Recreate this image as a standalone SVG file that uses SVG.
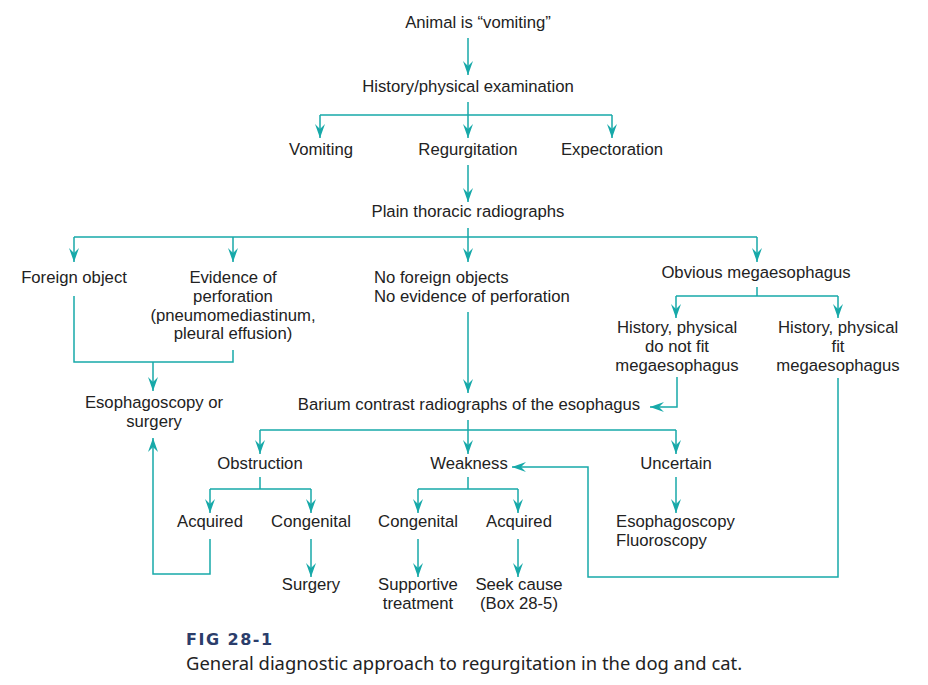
<svg xmlns="http://www.w3.org/2000/svg" width="928" height="685" viewBox="0 0 928 685">
<defs>
<marker id="ah" viewBox="0 0 14 10" refX="14" refY="5" markerWidth="14" markerHeight="10" markerUnits="userSpaceOnUse" orient="auto">
<path d="M0,0 L14,5 L0,10 L5,5 z" fill="#17a9a9"/>
</marker>
<style>
text{font-family:"Liberation Sans",Arial,sans-serif;font-size:16.7px;fill:#222;}
.c{text-anchor:middle;}
.ln{fill:none;stroke:#17a9a9;stroke-width:1.5;}
.a{marker-end:url(#ah);}
.fig{font-family:"DejaVu Sans",sans-serif;font-weight:bold;font-size:16px;fill:#2b3d6b;letter-spacing:1.5px;}
.cap{font-family:"Noto Sans","Liberation Sans",sans-serif;font-size:18.4px;fill:#222;}
</style>
</defs>
<rect width="928" height="685" fill="#fff"/>
<g id="connectors">
<path class="ln a" d="M468,38 V75"/>
<path class="ln" d="M468,102 V115 M320,115 H612"/>
<path class="ln a" d="M320,115 V138"/>
<path class="ln a" d="M468,115 V138"/>
<path class="ln a" d="M612,115 V138"/>
<path class="ln a" d="M468,165 V202"/>
<path class="ln" d="M468,228 V237 M74,237 H757"/>
<path class="ln a" d="M74,237 V262"/>
<path class="ln a" d="M233,237 V262"/>
<path class="ln a" d="M468,237 V262"/>
<path class="ln a" d="M757,237 V262"/>
<path class="ln" d="M74,296 V362 H233 V350"/>
<path class="ln a" d="M153,362 V391"/>
<path class="ln a" d="M468,312 V393"/>
<path class="ln" d="M757,287 V296 M676,296 H838"/>
<path class="ln a" d="M676,296 V318"/>
<path class="ln a" d="M838,296 V318"/>
<path class="ln a" d="M677,377 V407 H650"/>
<path class="ln a" d="M838,378 V577 H588 V467 H512"/>
<path class="ln" d="M468,420 V430 M260,430 H676"/>
<path class="ln a" d="M260,430 V454"/>
<path class="ln a" d="M468,430 V454"/>
<path class="ln a" d="M676,430 V454"/>
<path class="ln" d="M260,477 V489 M210,489 H311"/>
<path class="ln a" d="M210,489 V513"/>
<path class="ln a" d="M311,489 V513"/>
<path class="ln" d="M468,477 V489 M418,489 H518"/>
<path class="ln a" d="M418,489 V513"/>
<path class="ln a" d="M518,489 V513"/>
<path class="ln a" d="M676,477 V513"/>
<path class="ln a" d="M210,539 V574 H153 V438"/>
<path class="ln a" d="M311,539 V577"/>
<path class="ln a" d="M418,539 V577"/>
<path class="ln a" d="M518,539 V577"/>
</g>
<g id="n-animal"><text class="c" x="478" y="28">Animal is “vomiting”</text></g>
<g id="n-history"><text class="c" x="468" y="92">History/physical examination</text></g>
<g id="n-vomiting"><text class="c" x="321" y="155">Vomiting</text></g>
<g id="n-regurg"><text class="c" x="468" y="155">Regurgitation</text></g>
<g id="n-expect"><text class="c" x="612" y="155">Expectoration</text></g>
<g id="n-plain"><text class="c" x="468" y="217">Plain thoracic radiographs</text></g>
<g id="n-foreign"><text class="c" x="74" y="283">Foreign object</text></g>
<g id="n-perf"><text class="c" x="233" y="283">Evidence of</text><text class="c" x="233" y="302">perforation</text><text class="c" x="233" y="321">(pneumomediastinum,</text><text class="c" x="233" y="339">pleural effusion)</text></g>
<g id="n-noforeign"><text x="374" y="283">No foreign objects</text><text x="374" y="302">No evidence of perforation</text></g>
<g id="n-mega"><text class="c" x="756" y="278">Obvious megaesophagus</text></g>
<g id="n-notfit"><text class="c" x="677" y="333">History, physical</text><text class="c" x="677" y="352">do not fit</text><text class="c" x="677" y="371">megaesophagus</text></g>
<g id="n-fit"><text class="c" x="838" y="333">History, physical</text><text class="c" x="838" y="352">fit</text><text class="c" x="838" y="371">megaesophagus</text></g>
<g id="n-esoph"><text class="c" x="154" y="408">Esophagoscopy or</text><text class="c" x="154" y="427">surgery</text></g>
<g id="n-barium"><text class="c" x="469" y="410">Barium contrast radiographs of the esophagus</text></g>
<g id="n-obstr"><text class="c" x="260" y="469">Obstruction</text></g>
<g id="n-weak"><text class="c" x="469" y="469">Weakness</text></g>
<g id="n-uncert"><text class="c" x="676" y="469">Uncertain</text></g>
<g id="n-acq1"><text class="c" x="210" y="527">Acquired</text></g>
<g id="n-con1"><text class="c" x="311" y="527">Congenital</text></g>
<g id="n-con2"><text class="c" x="418" y="527">Congenital</text></g>
<g id="n-acq2"><text class="c" x="519" y="527">Acquired</text></g>
<g id="n-scopy"><text x="616" y="527">Esophagoscopy</text><text x="616" y="546">Fluoroscopy</text></g>
<g id="n-surg"><text class="c" x="311" y="590">Surgery</text></g>
<g id="n-supp"><text class="c" x="418" y="590">Supportive</text><text class="c" x="418" y="609">treatment</text></g>
<g id="n-seek"><text class="c" x="519" y="590">Seek cause</text><text class="c" x="519" y="609">(Box 28-5)</text></g>
<g id="caption"><text class="fig" x="186" y="645">FIG 28-1</text><text class="cap" x="186" y="670">General diagnostic approach to regurgitation in the dog and cat.</text></g>
</svg>
